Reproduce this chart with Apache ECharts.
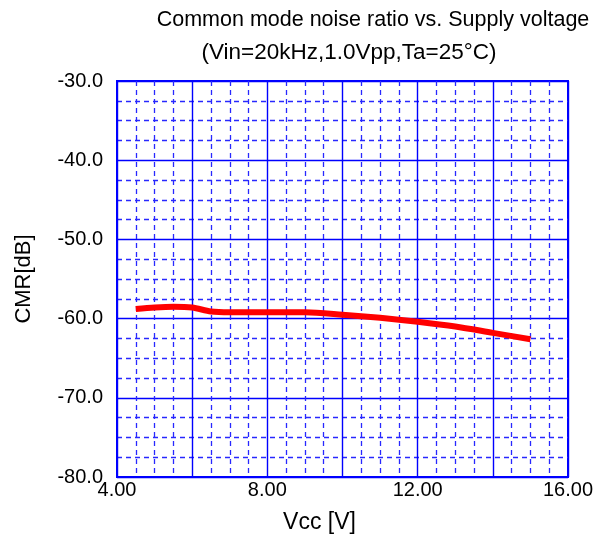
<!DOCTYPE html>
<html>
<head>
<meta charset="utf-8">
<script src="https://cdn.jsdelivr.net/npm/echarts@6/dist/echarts.min.js"></script>
<style>
html,body{margin:0;padding:0;background:#fff;}
#chart{width:605px;height:541px;}
</style>
</head>
<body>
<div id="chart"></div>
<script>
const titleLine1 = 'Common mode noise ratio vs. Supply voltage';
const titleLine2 = '(Vin=20kHz,1.0Vpp,Ta=25°C)';
const xName = 'Vcc [V]';
const yName = 'CMR[dB]';
const vcc = [4.5, 5.0, 5.5, 6.0, 6.5, 7.0, 8.0, 9.0, 10.0, 11.0, 12.0, 13.0, 14.0, 15.0];
const cmr = [-58.8, -58.6, -58.5, -58.6, -59.1, -59.2, -59.2, -59.2, -59.5, -59.9, -60.4, -61.0, -61.8, -62.6];
const xLabelTicks = [4, 8, 12, 16];

const FONT = '"Liberation Sans", Arial, sans-serif';
const BLUE = '#0000ff';
const BLUE_MINOR = '#2828ff';

const chart = echarts.init(document.getElementById('chart'), null, {renderer: 'canvas'});
chart.setOption({
  animation: false,
  backgroundColor: '#ffffff',
  title: [
    {text: titleLine1, left: 368, top: 4, textAlign: 'center',
     textStyle: {fontFamily: FONT, fontSize: 21.5, fontWeight: 'normal', color: '#000'}},
    {text: titleLine2, left: 344, top: 36, textAlign: 'center',
     textStyle: {fontFamily: FONT, fontSize: 22.5, fontWeight: 'normal', color: '#000'}}
  ],
  grid: {left: 117, right: 37, top: 81, bottom: 64, show: true, borderColor: BLUE, borderWidth: 2, backgroundColor: 'transparent'},
  xAxis: {
    type: 'value', min: 4, max: 16, interval: 2,
    name: xName, nameLocation: 'middle', nameGap: 34,
    nameTextStyle: {fontFamily: FONT, fontSize: 23, color: '#000', padding: [0, 46, 0, 0]},
    axisLine: {show: true, lineStyle: {color: BLUE, width: 2}},
    axisTick: {show: false},
    axisLabel: {fontFamily: FONT, fontSize: 20, color: '#000', margin: 3,
      formatter: v => xLabelTicks.indexOf(v) >= 0 ? v.toFixed(2) : ''},
    splitLine: {show: true, lineStyle: {color: BLUE, width: 1.4, type: 'solid'}},
    minorTick: {show: false, splitNumber: 4},
    minorSplitLine: {show: true, lineStyle: {color: BLUE_MINOR, width: 1.3, type: [5, 4]}}
  },
  yAxis: {
    type: 'value', min: -80, max: -30, interval: 10,
    name: yName, nameLocation: 'middle', nameGap: 82, nameRotate: 90,
    nameTextStyle: {fontFamily: FONT, fontSize: 22, color: '#000'},
    axisLine: {show: true, lineStyle: {color: BLUE, width: 2}},
    axisTick: {show: false},
    axisLabel: {fontFamily: FONT, fontSize: 20, color: '#000', margin: 14,
      formatter: v => v.toFixed(1)},
    splitLine: {show: true, lineStyle: {color: BLUE, width: 1.4, type: 'solid'}},
    minorTick: {show: false, splitNumber: 4},
    minorSplitLine: {show: true, lineStyle: {color: BLUE_MINOR, width: 1.3, type: [5, 4]}}
  },
  series: [{
    type: 'line',
    data: vcc.map((x, i) => [x, cmr[i]]),
    smooth: 0.3,
    showSymbol: false,
    symbol: 'none',
    lineStyle: {color: '#ff0000', width: 6},
    z: 5
  }]
});
</script>
</body>
</html>
